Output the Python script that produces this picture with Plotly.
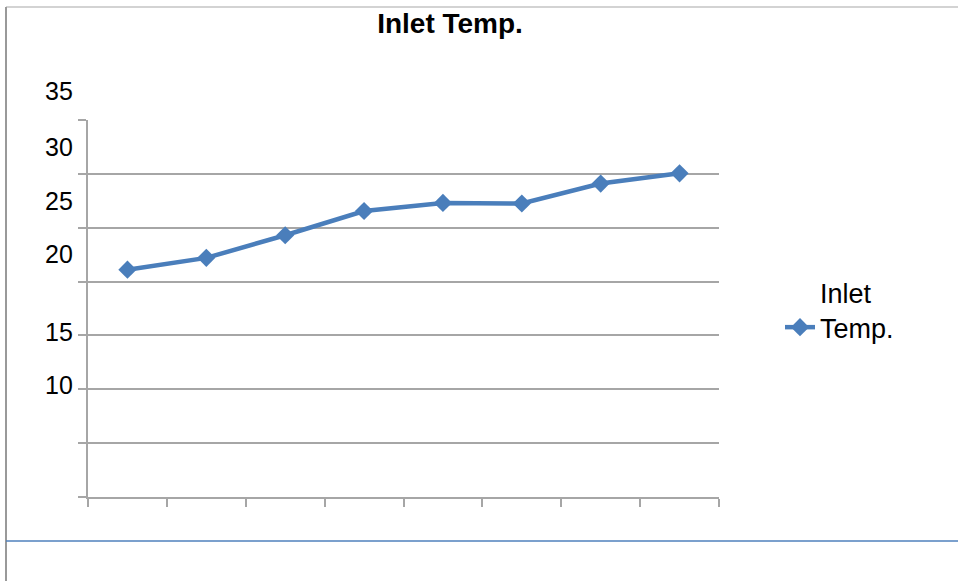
import plotly.graph_objects as go

# ---- data ----
points = [1, 2, 3, 4, 5, 6, 7, 8]
inlet_temp = [21.1, 22.2, 24.3, 26.55, 27.3, 27.25, 29.1, 30.05]
series_name = "Inlet<br>Temp."
title_text = "Inlet Temp."
ytick_labels = ["35", "30", "25", "20", "15", "10"]

# ---- layout geometry ----
W, H = 958, 581
L, R, T, B = 88, 239, 120, 84
PW, PH = W - L - R, H - T - B
YMAX = 35.0
FONT = "Liberation Sans, Arial, sans-serif"
GRID = "#a6a6a6"
BLUE = "#4a7ebb"


def px_x(px):
    return (px - L) / PW


def px_y(py):
    return (H - B - py) / PH


fig = go.Figure()
fig.add_trace(go.Scatter(
    x=points, y=inlet_temp, name=series_name, mode="lines+markers",
    line=dict(color=BLUE, width=4.5),
    marker=dict(symbol="diamond", size=14, color=BLUE),
    showlegend=True,
))

# y-axis labels as they appear (offset from gridlines in the original)
label_pos_px = [91, 146.5, 200.5, 253.5, 332, 385]
annotations = []
for txt, py in zip(ytick_labels, label_pos_px):
    annotations.append(dict(
        text=txt, xref="paper", yref="paper", x=px_x(75), y=px_y(py),
        xanchor="right", yanchor="middle", showarrow=False,
        font=dict(family=FONT, size=25, color="#000000"),
    ))

shapes = [
    dict(type="line", xref="paper", yref="paper", x0=px_x(6), x1=px_x(958),
         y0=px_y(7), y1=px_y(7), line=dict(color="#c4c4c4", width=1.5)),
    dict(type="line", xref="paper", yref="paper", x0=px_x(6), x1=px_x(6),
         y0=px_y(7), y1=px_y(581), line=dict(color="#999999", width=2)),
    dict(type="line", xref="paper", yref="paper", x0=px_x(6), x1=px_x(958),
         y0=px_y(541), y1=px_y(541), line=dict(color="#4f81bd", width=1.5)),
]

fig.update_layout(
    width=W, height=H,
    margin=dict(l=L, r=R, t=T, b=B),
    paper_bgcolor="white", plot_bgcolor="white",
    font=dict(family=FONT, color="#000000"),
    title=dict(text="<b>" + title_text + "</b>", x=450 / W, xref="container",
               xanchor="center", y=1 - 23 / H, yref="container", yanchor="middle",
               font=dict(family=FONT, size=28, color="#000000")),
    xaxis=dict(range=[0.5, 8.5], tickvals=[i + 0.5 for i in range(0, 9)],
               showticklabels=False, ticks="outside", ticklen=8, tickwidth=1.5,
               tickcolor=GRID, showline=True, linecolor=GRID, linewidth=1.5,
               showgrid=False, zeroline=False, fixedrange=True),
    yaxis=dict(range=[0, YMAX], tickvals=[0, 5, 10, 15, 20, 25, 30, 35],
               showticklabels=False, ticks="outside", ticklen=8, tickwidth=1.5,
               tickcolor=GRID, showline=True, linecolor=GRID, linewidth=1.5,
               showgrid=True, gridcolor=GRID, gridwidth=1.5, zeroline=False,
               fixedrange=True),
    legend=dict(x=px_x(780), y=px_y(268), xanchor="left", yanchor="top",
                valign="bottom", bgcolor="rgba(0,0,0,0)",
                font=dict(family=FONT, size=27, color="#000000")),
    annotations=annotations,
    shapes=shapes,
)

fig.write_html("out.html", config={"displayModeBar": False},
               post_script="document.body.style.margin='0px';")
